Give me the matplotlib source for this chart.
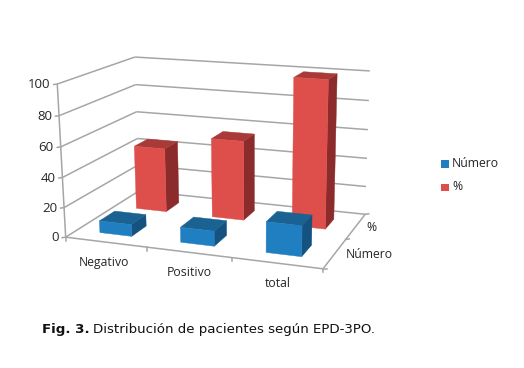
import numpy as np
from matplotlib import pyplot as plt
from matplotlib.patches import Polygon, Rectangle

categories = ['Negativo', 'Positivo', 'total']
series_names = ['Número', '%']
numero = [8, 10, 20]
porcentaje = [45, 55, 100]
z_ticks = [0, 20, 40, 60, 80, 100]

blue = ('#1F7FC1', '#1A6292', '#14527F')   # front, top, side
red = ('#DE4F4C', '#A83A38', '#8C2B2B')
grid_col = '#A6A6A6'
text_col = '#262626'

# camera fitted on the box corners, (cat, series, value) -> pixel
box = [(0, 0, 0, 65, 237), (0, 0, 100, 58, 84), (0, 2, 0, 140, 191), (0, 2, 100, 134, 57),
       (3, 0, 0, 323, 269), (3, 2, 0, 365, 214), (3, 2, 100, 370, 71)]
A = []
b = []
for x, y, z, px, py in box:
    A.append([x, y, z, 1, 0, 0, 0, 0, -px*x, -px*y, -px*z])
    A.append([0, 0, 0, 0, x, y, z, 1, -py*x, -py*y, -py*z])
    b += [px, py]
cam = np.linalg.lstsq(np.array(A, float), np.array(b, float), rcond=None)[0]
cam = np.append(cam, 1).reshape(3, 4)

def project(x, y, z):
    p = cam @ np.array([x, y, z, 1.0])
    return p[0]/p[2], p[1]/p[2]

def line3d(p0, p1, **kw):
    a = project(*p0)
    c = project(*p1)
    ax.plot([a[0], c[0]], [a[1], c[1]], solid_capstyle='butt', **kw)

def bar(i, s, val, cols):
    # i = category, s = series row
    x0, x1 = i + .49 - bar_w/2, i + .49 + bar_w/2
    y0, y1 = s + .48 - bar_d/2, s + .48 + bar_d/2
    front = [(x0, y0, 0), (x1, y0, 0), (x1, y0, val), (x0, y0, val)]
    top = [(x0, y0, val), (x1, y0, val), (x1, y1, val), (x0, y1, val)]
    side = [(x1, y0, 0), (x1, y1, 0), (x1, y1, val), (x1, y0, val)]
    for face, c in zip((side, top, front), (cols[2], cols[1], cols[0])):
        ax.add_patch(Polygon([project(*q) for q in face], closed=True, fc=c, ec=c, lw=.3, zorder=3))

bar_w = .40
bar_d = .40

plt.rcParams['font.family'] = ['Open Sans', 'DejaVu Sans']
fig = plt.figure(figsize=(5.24, 3.68), dpi=100)
ax = fig.add_axes([0, 0, 1, 1])
ax.set_xlim(0, 524)
ax.set_ylim(368, 0)
ax.axis('off')

# walls and floor
for z in z_ticks:
    line3d((0, 0, z), (0, 2, z), color=grid_col, lw=1.1)
    line3d((0, 2, z), (3, 2, z), color=grid_col, lw=1.1)
    a = project(0, 0, z)
    ax.plot([a[0]-3.5, a[0]], [a[1]+.5, a[1]], color=grid_col, lw=1.1)
    ax.text(a[0]-7, a[1]+.5, str(z), ha='right', va='center', fontsize=9.5, color=text_col)
line3d((0, 0, 0), (0, 0, 100), color=grid_col, lw=1.1)
line3d((0, 0, 0), (3, 0, 0), color=grid_col, lw=1.1)
line3d((3, 0, 0), (3, 2, 0), color=grid_col, lw=1.1)
for i in range(4):
    a = project(i, 0, 0)
    ax.plot([a[0], a[0]], [a[1], a[1]+3.5], color=grid_col, lw=1.1)
for s in range(3):
    a = project(3, s, 0)
    ax.plot([a[0], a[0]+3.5], [a[1], a[1]-.5] if s else [a[1], a[1]], color=grid_col, lw=1.1)

# back row first, then front row
for i, val in enumerate(porcentaje):
    bar(i, 1, val, red)
for i, val in enumerate(numero):
    bar(i, 0, val, blue)

label_dx = [-2, 0, 1]
for i, name in enumerate(categories):
    a = project(i+.5, 0, 0)
    ax.text(a[0]+label_dx[i], a[1]+20, name, ha='center', va='center', fontsize=8.8, color=text_col)
for s, name in enumerate(series_names):
    a = project(3, s+.5, 0)
    ax.text(a[0]+11, a[1]+1, name, ha='left', va='center', fontsize=8.8, color=text_col)

# legend
for yy, name, c in zip((163.5, 187), series_names, (blue[0], red[0])):
    ax.add_patch(Rectangle((441, yy-3.5), 7.5, 7.5, fc=c, ec='none'))
    ax.text(452, yy, name, ha='left', va='center', fontsize=8.8, color=text_col)

# caption
ax.text(42, 329, 'Fig. 3.', family=['DejaVu Sans'], weight='bold', fontsize=9.6, va='center', color='#111111')
ax.text(93, 329, 'Distribución de pacientes según EPD-3PO.', family=['DejaVu Sans'], fontsize=9.6, va='center', color='#111111')

fig.savefig('out.png', dpi=100)
